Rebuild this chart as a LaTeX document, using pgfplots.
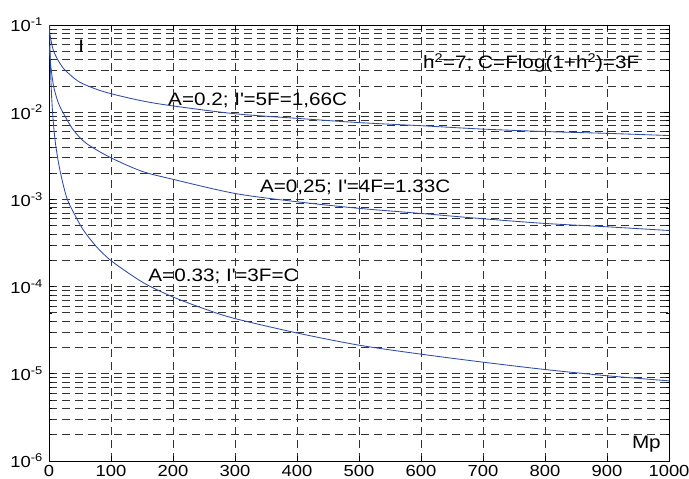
\documentclass[border=0pt]{standalone}
\usepackage{fontspec}
\setmainfont{Liberation Sans}[FakeStretch=1.15]
\usepackage{pgfplots}
\pgfplotsset{compat=1.18}
\definecolor{curve}{RGB}{45,75,170}
\begin{document}
\fontsize{18bp}{21bp}\selectfont
\begin{tikzpicture}
\useasboundingbox (-49bp,-18bp) rectangle (640bp,461bp);
\begin{axis}[
  at={(0,0)}, anchor=south west,
  scale only axis, width=620bp, height=436bp,
  ymode=log, xmin=0, xmax=1000, ymin=1e-6, ymax=1e-1,
  xtick={0,100,...,1000},
  ytick={1e-6,1e-5,1e-4,1e-3,1e-2,1e-1},
  yticklabels={10\textsuperscript{-6},10\textsuperscript{-5},10\textsuperscript{-4},10\textsuperscript{-3},10\textsuperscript{-2},10\textsuperscript{-1}},
  grid=both,
  major grid style={black!80, dash pattern=on 8bp off 5bp, line width=0.8bp},
  minor grid style={black!80, dash pattern=on 8bp off 5bp, line width=0.8bp},
  tick align=inside, major tick length=5bp, minor tick length=3bp,
  axis line style={line width=0.9bp},
  tick style={black, line width=0.7bp},
  /pgf/number format/assume math mode=true,
  /pgf/number format/set thousands separator={},
  ticklabel style={font=\fontsize{16bp}{19bp}\selectfont},
  xticklabel style={inner sep=0pt, anchor=north, yshift=-4bp},
]
\addplot[curve, line width=0.85bp, smooth] coordinates {
(0,0.09) (2,0.074) (5,0.058) (8,0.049) (15,0.039) (23,0.032) (35,0.0265) (50,0.022) (75,0.0185) (100,0.0163) (150,0.0135) (200,0.0118) (300,0.0096) (400,0.0085) (500,0.0076) (600,0.0070) (700,0.0064) (800,0.0060) (900,0.00572) (1000,0.0054)
};
\addplot[curve, line width=0.85bp, smooth] coordinates {
(0,0.06) (2,0.04) (4,0.029) (8,0.019) (15,0.0128) (23,0.0098) (39,0.0063) (60,0.0044) (100,0.0030) (150,0.0021) (200,0.0017) (300,0.00117) (400,0.00094) (500,0.00079) (600,0.00069) (700,0.00060) (800,0.00053) (900,0.000485) (1000,0.00044)
};
\addplot[curve, line width=0.85bp, smooth] coordinates {
(1,0.109) (2,0.042) (4,0.0163) (7,0.0076) (11,0.0041) (18,0.0021) (28.5,0.00105) (40,0.0007) (55,0.00045) (75,0.000295) (98,0.000204) (130,0.00014) (158,0.000105) (200,7.6e-5) (254,5.45e-5) (300,4.3e-5) (400,2.94e-5) (500,2.13e-5) (600,1.68e-5) (700,1.36e-5) (800,1.12e-5) (900,9.5e-6) (1000,8.3e-6)
};
\node[anchor=base west, inner sep=0pt] at (axis cs:47,0.0487) {I};
\node[anchor=base west, inner sep=0pt] at (axis cs:603,0.0319) {h\textsuperscript{2}=7; C=Flog(1+h\textsuperscript{2})=3F};
\node[anchor=base west, inner sep=0pt] at (axis cs:192,0.0118) {A=0.2; I\textquotesingle=5F=1,66C};
\node[anchor=base west, inner sep=0pt] at (axis cs:340,0.0012) {A=0,25; I\textquotesingle=4F=1.33C};
\node[anchor=base west, inner sep=0pt] at (axis cs:160,1.148e-4) {A=0.33; I\textquotesingle=3F=C};
\node[anchor=base west, inner sep=0pt] at (axis cs:940,1.39e-6) {Mp};
\end{axis}
\end{tikzpicture}
\end{document}
